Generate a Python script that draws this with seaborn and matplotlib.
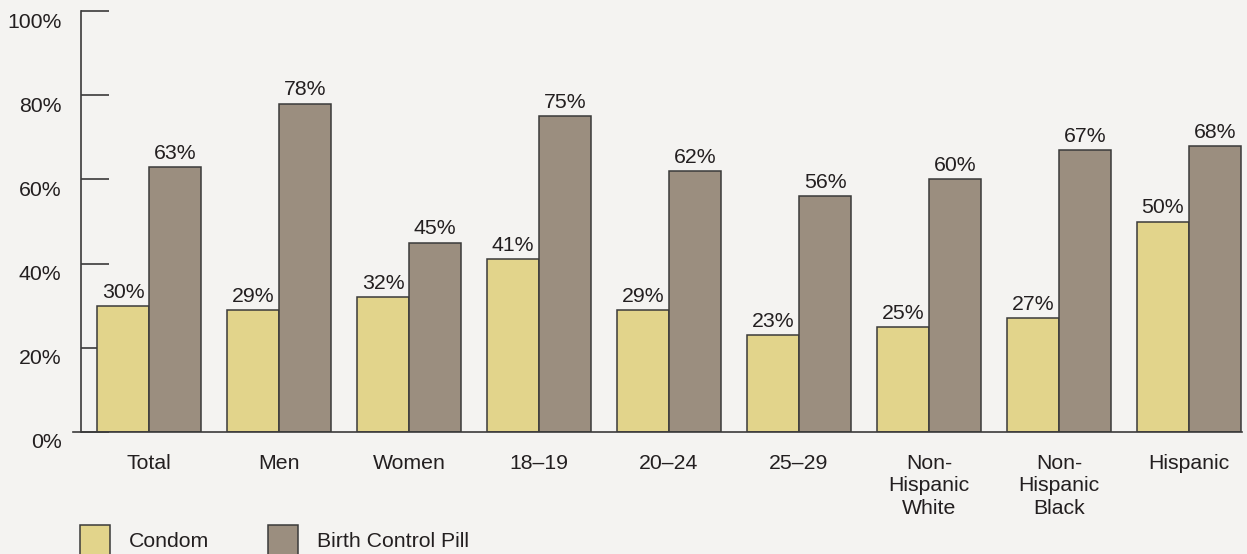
import matplotlib
matplotlib.use("Agg")
import matplotlib.pyplot as plt
import matplotlib.transforms as mtransforms
from matplotlib.patches import Patch
import seaborn as sns
import pandas as pd

categories = ["Total", "Men", "Women", "18\u201319", "20\u201324", "25\u201329",
              "Non-\nHispanic\nWhite", "Non-\nHispanic\nBlack", "Hispanic"]
condom = [30, 29, 32, 41, 29, 23, 25, 27, 50]
pill = [63, 78, 45, 75, 62, 56, 60, 67, 68]
series_names = ["Condom", "Birth Control Pill"]
colors = ["#e2d48b", "#9b8e7f"]
y_ticks = [0, 20, 40, 60, 80, 100]

rows = []
for c, a, b in zip(categories, condom, pill):
    rows.append({"group": c, "method": series_names[0], "value": a})
    rows.append({"group": c, "method": series_names[1], "value": b})
df = pd.DataFrame(rows)

sns.set_theme(style="white")
plt.rcParams["font.family"] = ["Liberation Sans", "DejaVu Sans"]
BG = "#f4f3f1"
TXT = "#231f20"
EDGE = "#3a3a3a"
FS = 15.3

W, H = 1247, 554
fig = plt.figure(figsize=(W / 100, H / 100), dpi=100, facecolor=BG)
ax = fig.add_axes([73 / W, (H - 432) / H, (1242 - 73) / W, (432 - 11) / H])
ax.set_facecolor(BG)

sns.barplot(data=df, x="group", y="value", hue="method", order=categories,
            hue_order=series_names, palette=colors, edgecolor=EDGE,
            linewidth=1.1, width=0.8, ax=ax, legend=False, saturation=1)

for cont in ax.containers:
    ax.bar_label(cont, labels=[f"{int(round(v))}%" for v in cont.datavalues],
                 padding=3, fontsize=FS, color=TXT)

x0 = -0.523 - (81 - 73) / 130
ax.set_xlim(x0, 8.408)
ax.set_ylim(0, 100)
ax.spines["left"].set_position(("data", -0.523))
ax.spines["left"].set_bounds(0, 100)
for s in ["top", "right"]:
    ax.spines[s].set_visible(False)
for s in ["left", "bottom"]:
    ax.spines[s].set_color("#3a3a3a")
    ax.spines[s].set_linewidth(1.2)

ax.set_yticks(y_ticks)
ax.set_yticklabels([f"{v}%" for v in y_ticks])
ax.tick_params(axis="y", left=True, direction="in", length=20, width=1.2,
               color="#3a3a3a", pad=14, labelsize=FS, labelcolor=TXT)
offset = mtransforms.ScaledTranslation(0, -9 / 100, fig.dpi_scale_trans)
for lab in ax.get_yticklabels():
    lab.set_transform(lab.get_transform() + offset)

ax.tick_params(axis="x", bottom=False, length=0, pad=15.5, labelsize=FS,
               labelcolor=TXT)
for lab in ax.get_xticklabels():
    lab.set_linespacing(1.25)
ax.set_xlabel("")
ax.set_ylabel("")

handles = [Patch(facecolor=c, edgecolor=EDGE, linewidth=1.1) for c in colors]
fig.legend(handles, series_names, loc="lower left",
           bbox_to_anchor=(69 / W, -12 / H), ncol=2, frameon=False,
           fontsize=FS, handlelength=1.42, handleheight=1.85,
           handletextpad=0.88, columnspacing=2.8, borderpad=0,
           labelcolor=TXT)

fig.savefig("out.png", dpi=100, facecolor=BG)
